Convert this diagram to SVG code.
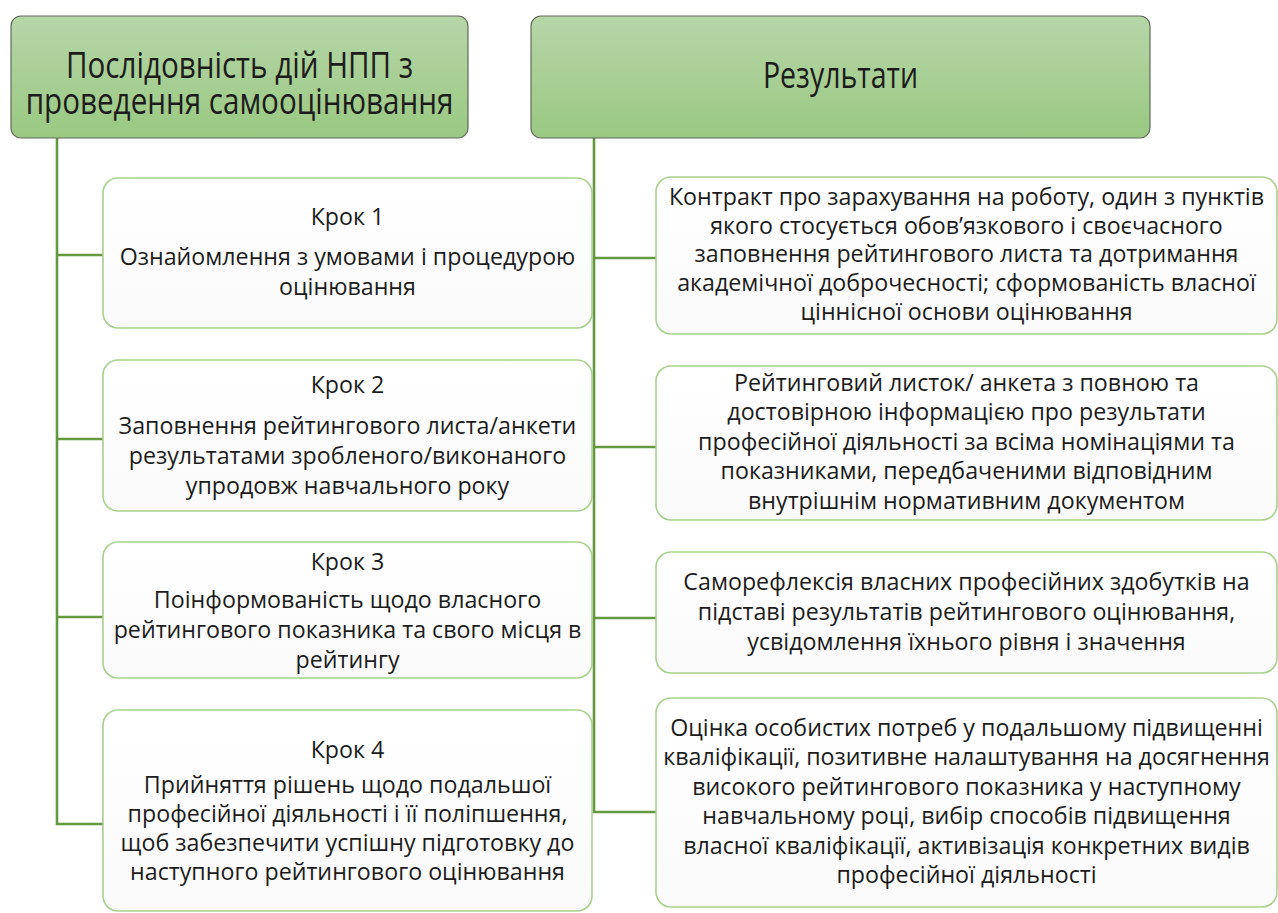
<svg xmlns="http://www.w3.org/2000/svg" width="1278" height="913" viewBox="0 0 1278 913">
<defs>
<linearGradient id="hg" x1="0" y1="0" x2="0" y2="1">
<stop offset="0" stop-color="#b6d6a8"/>
<stop offset="1" stop-color="#9ac882"/>
</linearGradient>
<linearGradient id="bg" x1="0" y1="0" x2="0" y2="1">
<stop offset="0" stop-color="#ffffff"/>
<stop offset="1" stop-color="#fafafa"/>
</linearGradient>
</defs>
<style>
.hdr{fill:url(#hg);stroke:#5e6b58;stroke-width:1.2}
.box{fill:url(#bg);stroke:#a9d08e;stroke-width:1.6}
.con{fill:none;stroke:#639a3f;stroke-width:2.6}
.ht{font-family:"Open Sans","Noto Sans","DejaVu Sans",sans-serif;font-size:37px;fill:#1c1c1c;text-anchor:middle}
.bt{font-family:"Open Sans","Noto Sans","DejaVu Sans",sans-serif;font-size:23px;fill:#1c1c1c;text-anchor:middle}
</style>
<rect width="1278" height="913" fill="#ffffff"/>
<g id="connectors">
<path class="con" d="M57 138V824H103M57 255H103M57 439H103M57 617H103"/>
<path class="con" d="M594 138V812H656M594 258H656M594 447H656M594 618H656"/>
</g>
<g id="header-sequence">
<rect class="hdr" x="11" y="16" width="457" height="122" rx="10"/>
<g transform="translate(239.5 0) scale(0.8 1)">
<text class="ht" x="0" y="78">Послідовність дій НПП з</text>
<text class="ht" x="0" y="114">проведення  самооцінювання</text>
</g>
</g>
<g id="header-results">
<rect class="hdr" x="531" y="16" width="619" height="122" rx="10"/>
<g transform="translate(840.5 0) scale(0.77 1)">
<text class="ht" x="0" y="88">Результати</text>
</g>
</g>
<g id="step1">
<rect class="box" x="103" y="178" width="489" height="150" rx="15"/>
<g transform="translate(347.5 0) scale(1.01 1)">
<text class="bt" x="0" y="225">Крок 1</text>
<text class="bt" x="0" y="265">Ознайомлення з умовами і процедурою</text>
<text class="bt" x="0" y="295">оцінювання</text>
</g>
</g>
<g id="step2">
<rect class="box" x="103" y="360" width="489" height="151" rx="15"/>
<g transform="translate(347.5 0) scale(1.01 1)">
<text class="bt" x="0" y="393">Крок 2</text>
<text class="bt" x="0" y="434">Заповнення рейтингового листа/анкети</text>
<text class="bt" x="0" y="464">результатами зробленого/виконаного</text>
<text class="bt" x="0" y="494">упродовж навчального року</text>
</g>
</g>
<g id="step3">
<rect class="box" x="103" y="542" width="489" height="136" rx="15"/>
<g transform="translate(347.5 0) scale(1.01 1)">
<text class="bt" x="0" y="570">Крок 3</text>
<text class="bt" x="0" y="608">Поінформованість щодо власного</text>
<text class="bt" x="0" y="638">рейтингового  показника та свого місця в</text>
<text class="bt" x="0" y="668">рейтингу</text>
</g>
</g>
<g id="step4">
<rect class="box" x="103" y="710" width="489" height="201" rx="15"/>
<g transform="translate(347.5 0) scale(1.01 1)">
<text class="bt" x="0" y="758">Крок 4</text>
<text class="bt" x="0" y="793">Прийняття рішень щодо подальшої</text>
<text class="bt" x="0" y="822">професійної діяльності і її поліпшення,</text>
<text class="bt" x="0" y="851">щоб забезпечити  успішну підготовку до</text>
<text class="bt" x="0" y="880">наступного рейтингового  оцінювання</text>
</g>
</g>
<g id="result1">
<rect class="box" x="656" y="177" width="621" height="157" rx="15"/>
<g transform="translate(966.5 0) scale(1.01 1)">
<text class="bt" x="0" y="205">Контракт про зарахування на роботу, один з пунктів</text>
<text class="bt" x="0" y="234">якого стосується обов’язкового і своєчасного</text>
<text class="bt" x="0" y="262">заповнення  рейтингового  листа та дотримання</text>
<text class="bt" x="0" y="291">академічної доброчесності; сформованість власної</text>
<text class="bt" x="0" y="320">ціннісної основи оцінювання</text>
</g>
</g>
<g id="result2">
<rect class="box" x="656" y="366" width="621" height="154" rx="15"/>
<g transform="translate(966.5 0) scale(1.01 1)">
<text class="bt" x="0" y="391">Рейтинговий листок/ анкета з повною та</text>
<text class="bt" x="0" y="420">достовірною інформацією про результати</text>
<text class="bt" x="0" y="450">професійної діяльності за всіма номінаціями та</text>
<text class="bt" x="0" y="479">показниками, передбаченими відповідним</text>
<text class="bt" x="0" y="509">внутрішнім нормативним документом</text>
</g>
</g>
<g id="result3">
<rect class="box" x="656" y="552" width="621" height="121" rx="15"/>
<g transform="translate(966.5 0) scale(1.01 1)">
<text class="bt" x="0" y="590">Саморефлексія власних професійних здобутків на</text>
<text class="bt" x="0" y="620">підставі результатів рейтингового оцінювання,</text>
<text class="bt" x="0" y="650">усвідомлення їхнього рівня і  значення</text>
</g>
</g>
<g id="result4">
<rect class="box" x="656" y="698" width="621" height="209" rx="15"/>
<g transform="translate(966.5 0) scale(1.01 1)">
<text class="bt" x="0" y="736">Оцінка особистих потреб у  подальшому підвищенні</text>
<text class="bt" x="0" y="765">кваліфікації, позитивне  налаштування на досягнення</text>
<text class="bt" x="0" y="795">високого рейтингового  показника у наступному</text>
<text class="bt" x="0" y="824">навчальному році, вибір способів підвищення</text>
<text class="bt" x="0" y="854">власної кваліфікації, активізація конкретних видів</text>
<text class="bt" x="0" y="883">професійної діяльності</text>
</g>
</g>
</svg>
